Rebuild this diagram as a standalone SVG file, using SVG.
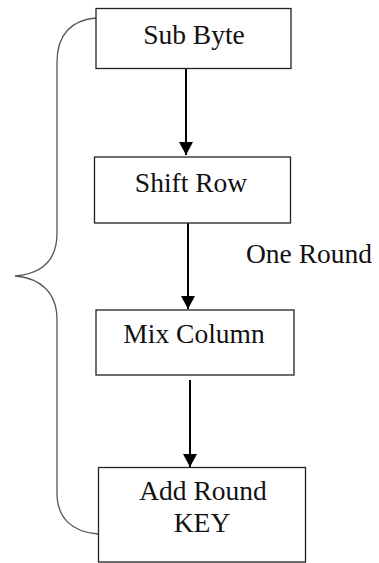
<svg xmlns="http://www.w3.org/2000/svg" width="379" height="563" viewBox="0 0 379 563">
<style>
.box{fill:#fff;stroke:#222;stroke-width:1.3}
.lbl{font-family:"Liberation Serif","Times New Roman",serif;font-size:27.5px;fill:#111;text-anchor:middle}
.arr{stroke:#000;stroke-width:2;fill:none}
.brace{stroke:#555;stroke-width:1.3;fill:none}
</style>
<defs>
<marker id="ah" markerWidth="13" markerHeight="14" refX="13" refY="7" orient="auto" markerUnits="userSpaceOnUse">
<path d="M0,0 L13,7 L0,14 Z" fill="#000"/>
</marker>
</defs>
<g id="connectors">
<line class="arr" x1="186" y1="69" x2="186" y2="155" marker-end="url(#ah)"/>
<line class="arr" x1="188" y1="223" x2="188" y2="309" marker-end="url(#ah)"/>
<line class="arr" x1="190" y1="380" x2="190" y2="467" marker-end="url(#ah)"/>
</g>
<g id="brace">
<path class="brace" d="M96,18 C72,20 57,34 57,62 L57,233 C57,262 40,274 15,276 C40,278 57,292 57,320 L57,493 C57,518 72,532 98,534"/>
</g>
<g id="sub-byte">
<rect class="box" x="96" y="8.5" width="195" height="60"/>
<text class="lbl" x="194" y="44">Sub Byte</text>
</g>
<g id="shift-row">
<rect class="box" x="94.5" y="157" width="196" height="66"/>
<text class="lbl" x="191" y="192">Shift Row</text>
</g>
<g id="mix-column">
<rect class="box" x="96" y="310" width="198" height="65"/>
<text class="lbl" x="194" y="343">Mix Column</text>
</g>
<g id="add-round-key">
<rect class="box" x="98.5" y="467.5" width="207" height="94.5"/>
<text class="lbl" x="203" y="500">Add Round</text>
<text class="lbl" x="202" y="532">KEY</text>
</g>
<g id="one-round">
<text class="lbl" x="246" y="263" style="text-anchor:start">One Round</text>
</g>
</svg>
